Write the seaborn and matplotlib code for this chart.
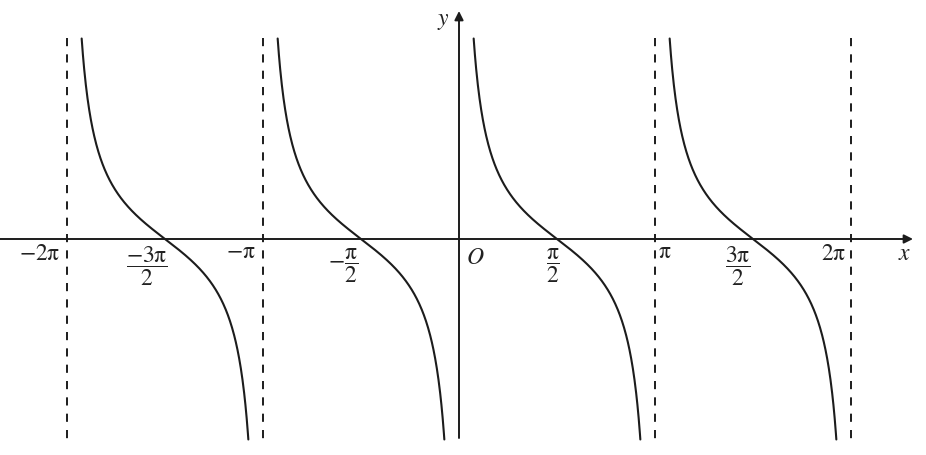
import numpy as np
import pandas as pd
import matplotlib
matplotlib.use("Agg")
import matplotlib.pyplot as plt
import seaborn as sns

# ---- data ----
branch_starts = [-2, -1, 0, 1]          # branch k covers (k*pi, (k+1)*pi)
asymptotes = [-2, -1, 1, 2]             # dashed vertical lines at k*pi
tick_labels = [r"$-2\mathrm{\pi}$", r"$\dfrac{-3\mathrm{\pi}}{2}$", r"$-\mathrm{\pi}$",
               r"$-\dfrac{\mathrm{\pi}}{2}$", r"$O$", r"$\dfrac{\mathrm{\pi}}{2}$",
               r"$\mathrm{\pi}$", r"$\dfrac{3\mathrm{\pi}}{2}$", r"$2\mathrm{\pi}$"]
edge_gap = 0.235                        # curve drawn from k*pi+gap to (k+1)*pi-gap

sns.set_style("white")
plt.rcParams["mathtext.fontset"] = "stix"
plt.rcParams["font.family"] = ["Liberation Serif", "DejaVu Serif"]

W, H = 926, 455
fig = plt.figure(figsize=(W / 100, H / 100), dpi=100)
ax = fig.add_axes([0, 0, 1, 1])

X0, PI_PX, Y0, UNIT = 459, 196, 239, 48
def px2x(px):
    return (px - X0) / PI_PX * np.pi
def px2y(py):
    return (Y0 - py) / UNIT

ax.set_xlim(px2x(0), px2x(W))
ax.set_ylim(px2y(H), px2y(0))
ax.axis("off")

col = "#1c1c1c"

# curves y = cot x
rows = []
for k in branch_starts:
    xs = np.linspace(k * np.pi + edge_gap, (k + 1) * np.pi - edge_gap, 400)
    ys = np.cos(xs) / np.sin(xs)
    rows.append(pd.DataFrame({"x": xs, "y": ys, "branch": k}))
df = pd.concat(rows, ignore_index=True)
sns.lineplot(data=df, x="x", y="y", units="branch", estimator=None, sort=False,
             color=col, lw=1.5, ax=ax, legend=False)

# asymptotes
for k in asymptotes:
    ax.plot([k * np.pi, k * np.pi], [px2y(38), px2y(440)], color=col, lw=1.4,
            linestyle=(0, (4.2, 4.2)))

# axes with arrows
ax.annotate("", xy=(px2x(913), 0), xytext=(px2x(0), 0),
            arrowprops=dict(arrowstyle="-|>", lw=1.4, color=col, mutation_scale=13,
                            shrinkA=0, shrinkB=0))
ax.annotate("", xy=(0, px2y(11)), xytext=(0, px2y(438)),
            arrowprops=dict(arrowstyle="-|>", lw=1.4, color=col, mutation_scale=13,
                            shrinkA=0, shrinkB=0))

fs = 17
tc = "#222222"
# label placement (pixel coords)
places = [
    (60, 255, "right", "center"),
    (147, 266, "center", "center"),
    (256, 253, "right", "center"),
    (343, 266, "center", "center"),
    (475, 258, "center", "center"),
    (553, 266, "center", "center"),
    (658, 253, "left", "center"),
    (738, 266, "center", "center"),
    (846, 255, "right", "center"),
]
for lab, (px, py, ha, va) in zip(tick_labels, places):
    ax.text(px2x(px), px2y(py), lab, ha=ha, va=va, fontsize=fs, color=tc)

ax.text(px2x(905), px2y(255), r"$x$", ha="center", va="center", fontsize=fs, color=tc)
ax.text(px2x(443), px2y(21), r"$y$", ha="center", va="center", fontsize=fs, color=tc)

fig.savefig("out.png", dpi=100, facecolor="white")
